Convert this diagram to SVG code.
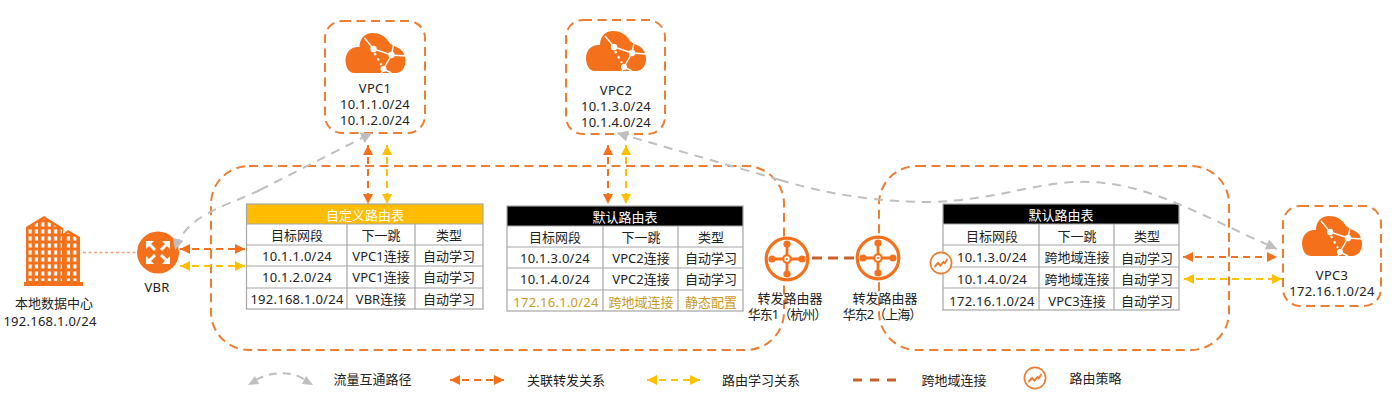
<svg xmlns="http://www.w3.org/2000/svg" width="1400" height="416" viewBox="0 0 1400 416">
<style>
text{font-family:"Noto Sans","Noto Sans CJK SC",sans-serif;font-size:13px;fill:#222;text-anchor:middle;dominant-baseline:central}
.n{letter-spacing:.25px}
.tight{letter-spacing:-1px}
.hd{fill:#fff}
.gold{fill:#c99a1a}
.frame{fill:none;stroke:#ed7d31;stroke-width:2;stroke-dasharray:9 5.5}
.grid{fill:none;stroke:#a6a6a6;stroke-width:1.2}
.or{fill:none;stroke:#f5701a;stroke-width:2;stroke-dasharray:7 5;marker-start:url(#ao);marker-end:url(#ao)}
.ye{fill:none;stroke:#ffc000;stroke-width:2;stroke-dasharray:7 5;marker-start:url(#ay);marker-end:url(#ay)}
.gr{fill:none;stroke:#bfbfbf;stroke-width:2;stroke-dasharray:9 7;marker-end:url(#ag)}
.br{fill:none;stroke:#c8622a;stroke-width:3;stroke-dasharray:10 6}
.pol{fill:#fff;stroke:#ed7d31;stroke-width:1.7}
.polline{fill:none;stroke:#ed7d31;stroke-width:1.9}
</style>
<defs>
<marker id="ao" markerUnits="userSpaceOnUse" markerWidth="12" markerHeight="12" refX="11" refY="6" orient="auto-start-reverse"><path d="M1,1 L11,6 L1,11 Z" fill="#f5701a"/></marker>
<marker id="ay" markerUnits="userSpaceOnUse" markerWidth="12" markerHeight="12" refX="11" refY="6" orient="auto-start-reverse"><path d="M1,1 L11,6 L1,11 Z" fill="#ffc000"/></marker>
<marker id="ag" markerUnits="userSpaceOnUse" markerWidth="13" markerHeight="13" refX="12" refY="6.5" orient="auto-start-reverse"><path d="M1,1 L12,6.5 L1,12 Z" fill="#bfbfbf"/></marker>
<symbol id="cloud" viewBox="0 0 60 40" width="60" height="40" overflow="visible">
<path d="M9,40 C3,40 0,34 0,27 C0,19 6,13 14,14 C14,6 19,0 27,0 C34,0 40,3 44,10 C46,12 49,13 53,15 C58,18 60,23 60,28 C60,35 56,40 50,40 Z" fill="#f5701a"/>
<path d="M19,5 L28,16 L46,22 L48,12 M46,22 L60,23 M46,22 L38,36 L36,40 M38,36 L46,40" fill="none" stroke="#fff" stroke-width="1.4"/>
<path d="M29,20 L36,32" fill="none" stroke="#fff" stroke-width="2.2" stroke-dasharray="2.5 3.5"/>
<circle cx="28" cy="16" r="3.2" fill="#fff"/><circle cx="46" cy="22" r="3.2" fill="#fff"/><circle cx="38" cy="36" r="3" fill="#fff"/>
</symbol>
<symbol id="router" viewBox="-24 -24 48 48" width="48" height="48">
<circle r="20.8" fill="#fff" stroke="#f5701a" stroke-width="3.2"/>
<path d="M-14,0 H14 M0,-14 V14" stroke="#f5701a" stroke-width="2.8"/>
<circle cx="-15" r="3.6" fill="#f5701a"/><circle cx="15" r="3.6" fill="#f5701a"/><circle cy="-15" r="3.6" fill="#f5701a"/><circle cy="15" r="3.6" fill="#f5701a"/>
<circle r="4.8" fill="#f5701a"/><circle r="2.7" fill="#fff"/><circle r="1.1" fill="#f5701a"/>
</symbol>
<symbol id="trend" viewBox="-12 -12 24 24" width="24" height="24">
<circle r="10.6" class="pol"/>
<path d="M-6.5,4 L-3,0 L-0.5,2.5 L2.5,-1 L3.8,0.3 L6.5,-4" class="polline"/>
</symbol>
<pattern id="win" width="6.4" height="7" patternUnits="userSpaceOnUse" x="27" y="221"><rect x="1.6" y="1.4" width="3" height="4.2" fill="#fff"/></pattern>
</defs>

<g id="regions">
<rect class="frame" x="211" y="166" width="573" height="184" rx="38"/>
<rect class="frame" x="879" y="166" width="350" height="184" rx="38"/>
</g>

<g id="dc">
<path d="M26,283 V227 L44,216 L63,228 V283 Z" fill="#f5701a"/>
<path d="M63,283 V234 L68,230 L80,237 V283 Z" fill="#f5701a"/>
<path d="M27,281 V229 L44,219 L62,230 V281 Z" fill="url(#win)"/>
<path d="M64,281 V235 L68,233 L79,239 V281 Z" fill="url(#win)"/>
<path d="M24,282 H83 V286 H24 Z" fill="#f5701a"/>
<text x="54" y="303">本地数据中心</text>
<text class="n" x="50" y="321">192.168.1.0/24</text>
</g>

<g id="vbr">
<circle cx="158" cy="252.5" r="21" fill="#f5701a"/>
<path d="M155,250 L147,242 M161,250 L169,242 M155,255 L147,263 M161,255 L169,263" stroke="#fff" stroke-width="3"/>
<path d="M146,241 L154,241 L146,249 Z M170,241 L162,241 L170,249 Z M146,264 L154,264 L146,256 Z M170,264 L162,264 L170,256 Z" fill="#fff"/>
<text class="n" x="157" y="287">VBR</text>
</g>

<g id="vpc1">
<rect class="frame" x="325" y="21" width="100" height="112" rx="17"/>
<use href="#cloud" x="345.5" y="33"/>
<text class="n" x="375" y="88">VPC1</text><text class="n" x="375" y="104">10.1.1.0/24</text><text class="n" x="375" y="120">10.1.2.0/24</text>
</g>
<g id="vpc2">
<rect class="frame" x="566" y="20" width="99" height="114" rx="17"/>
<use href="#cloud" x="586" y="31"/>
<text class="n" x="616" y="90">VPC2</text><text class="n" x="616" y="106">10.1.3.0/24</text><text class="n" x="616" y="122">10.1.4.0/24</text>
</g>
<g id="vpc3">
<rect class="frame" x="1283" y="206" width="98" height="100" rx="17"/>
<use href="#cloud" x="1302" y="216"/>
<text class="n" x="1332" y="275">VPC3</text><text class="n" x="1332" y="291">172.16.1.0/24</text>
</g>

<g id="table-custom">
<rect x="246.5" y="204" width="236.5" height="20" fill="#ffbc00"/>
<rect class="grid" x="246.5" y="204" width="236.5" height="105"/>
<path class="grid" d="M246.5,224 H483 M246.5,245 H483 M246.5,266 H483 M246.5,288 H483 M347,224 V309 M415,224 V309"/>
<text class="hd" x="365" y="214.5">自定义路由表</text>
<text x="297" y="235">目标网段</text><text x="381" y="235">下一跳</text><text x="449" y="235">类型</text>
<text class="n" x="297" y="256">10.1.1.0/24</text><text x="381" y="256">VPC1连接</text><text x="449" y="256">自动学习</text>
<text class="n" x="297" y="277">10.1.2.0/24</text><text x="381" y="277">VPC1连接</text><text x="449" y="277">自动学习</text>
<text class="n" x="297" y="299">192.168.1.0/24</text><text x="381" y="299">VBR连接</text><text x="449" y="299">自动学习</text>
</g>

<g id="table-default-1">
<rect x="507" y="206" width="236" height="20" fill="#000"/>
<rect class="grid" x="507" y="206" width="236" height="105"/>
<path class="grid" d="M507,226 H743 M507,247 H743 M507,268 H743 M507,290 H743 M603,226 V311 M678,226 V311"/>
<text class="hd" x="625" y="216.5">默认路由表</text>
<text x="555" y="237">目标网段</text><text x="641" y="237">下一跳</text><text x="711" y="237">类型</text>
<text class="n" x="555" y="258">10.1.3.0/24</text><text x="641" y="258">VPC2连接</text><text x="711" y="258">自动学习</text>
<text class="n" x="555" y="279">10.1.4.0/24</text><text x="641" y="279">VPC2连接</text><text x="711" y="279">自动学习</text>
<text class="gold n" x="556" y="302">172.16.1.0/24</text><text class="gold" x="641" y="302">跨地域连接</text><text class="gold" x="711" y="302">静态配置</text>
</g>

<g id="table-default-2">
<rect x="943" y="204" width="236" height="20" fill="#000"/>
<rect class="grid" x="943" y="204" width="236" height="106"/>
<path class="grid" d="M943,224 H1179 M943,245 H1179 M943,267 H1179 M943,288 H1179 M1039,224 V310 M1114,224 V310"/>
<text class="hd" x="1061" y="214.5">默认路由表</text>
<text x="992" y="236">目标网段</text><text x="1077" y="236">下一跳</text><text x="1147" y="236">类型</text>
<text class="n" x="992" y="257">10.1.3.0/24</text><text x="1077" y="257">跨地域连接</text><text x="1147" y="258">自动学习</text>
<text class="n" x="992" y="279">10.1.4.0/24</text><text x="1077" y="279">跨地域连接</text><text x="1147" y="279">自动学习</text>
<text class="n" x="992" y="301">172.16.1.0/24</text><text x="1077" y="301">VPC3连接</text><text x="1147" y="301">自动学习</text>
</g>

<g id="policy"><use href="#trend" x="929" y="251"/></g>

<g id="tr1">
<use href="#router" x="763" y="235"/>
<text x="790" y="298">转发路由器</text>
<text class="tight" x="787" y="314">华东1（杭州）</text>
</g>
<g id="tr2">
<use href="#router" x="854" y="234"/>
<text x="885" y="298">转发路由器</text>
<text class="tight" x="882" y="314">华东2（上海）</text>
</g>

<g id="connectors">
<path d="M83,252.5 H137" fill="none" stroke="#f7a072" stroke-width="1.6" stroke-dasharray="3 2.5"/>
<path class="gr" d="M260,190 L372,133"/>
<path class="gr" d="M260,190 C225,207 186,214 175,250"/>
<path class="gr" d="M780,180 L617,133"/>
<path class="gr" d="M780,180 C830,195 880,202 930,202 C1000,200 1040,180 1090,182 C1150,184 1200,215 1277,249"/>
<path class="or" d="M368,145 V204"/>
<path class="ye" d="M387,145 V204"/>
<path class="or" d="M608,145 V204"/>
<path class="ye" d="M626,145 V204"/>
<path class="or" d="M180,249 H245"/>
<path class="ye" d="M180,266 H245"/>
<path class="or" d="M1183,257 H1277"/>
<path class="ye" d="M1184,279 H1282"/>
<path class="br" d="M812,258 H855"/>
</g>

<g id="legend">
<path d="M256,380 C268,372 292,370 305,380" fill="none" stroke="#bfbfbf" stroke-width="2" stroke-dasharray="8 6"/>
<path d="M248,385 L255,376 L259,384 Z M313,385 L306,376 L302,384 Z" fill="#bfbfbf"/>
<text x="372.5" y="379">流量互通路径</text>
<path class="or" d="M450,380 H504"/>
<text x="566" y="380">关联转发关系</text>
<path class="ye" d="M647,380 H700"/>
<text x="761" y="380">路由学习关系</text>
<path class="br" d="M853,380 H896" style="stroke-dasharray:9 8"/>
<text x="954" y="380">跨地域连接</text>
<use href="#trend" x="1023" y="366"/>
<text x="1095.5" y="378">路由策略</text>
</g>
</svg>
